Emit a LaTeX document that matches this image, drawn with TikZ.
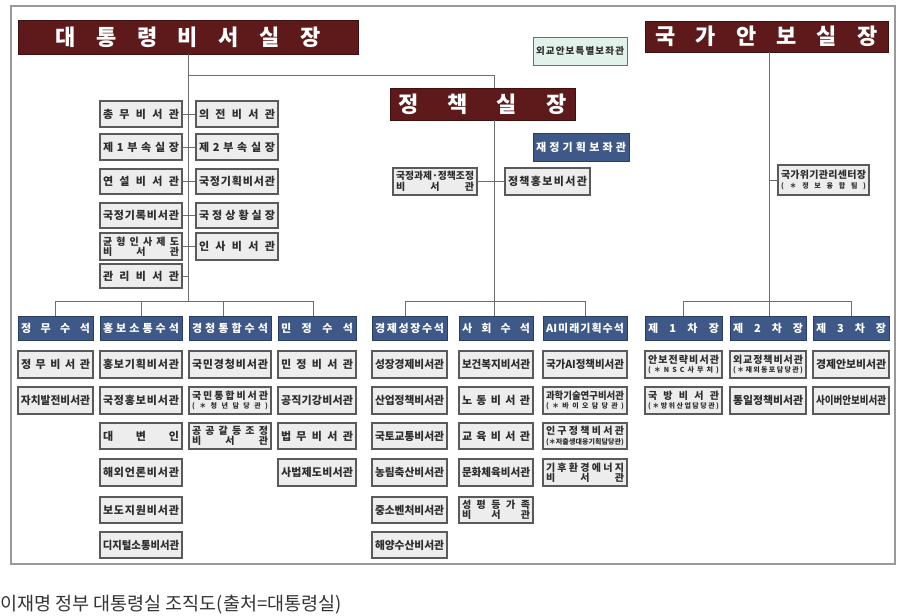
\documentclass[tikz,border=0pt]{standalone}
\usepackage{fontspec}
\setmainfont{Noto Sans CJK KR}
\usepackage{graphicx}
\definecolor{dred}{HTML}{5E1A1A}
\definecolor{dredb}{HTML}{3F1010}
\definecolor{hblue}{HTML}{3E5887}
\definecolor{hblueb}{HTML}{2A3E62}
\definecolor{sfill}{HTML}{EDEDED}
\definecolor{sbord}{HTML}{5A5A5A}
\definecolor{gfill}{HTML}{E1F2EA}
\definecolor{lnc}{HTML}{6E6E6E}
\definecolor{txt}{HTML}{2E2E2E}
\ExplSyntaxOn
\NewDocumentCommand\sprd{m}{\seq_clear:N \l_tmpa_seq \tl_map_inline:nn {#1}{\seq_put_right:Nn \l_tmpa_seq {##1}} \seq_use:Nn \l_tmpa_seq {\hfil}}
\ExplSyntaxOff
\newlength\bw
\newcommand\fitline[1]{\setbox0\hbox{\sprd{#1}}\ifdim\wd0>\bw\resizebox{\bw}{\height}{\sprd{#1}}\else\hbox to\bw{\sprd{#1}}\fi}
\newcommand\twos[2]{{\fontsize{10}{10}\selectfont\fitline{#1}}\\[-1.5pt]{\fontsize{10}{10}\selectfont\fitline{#2}}}
\newcommand\twop[2]{{\fontsize{10}{10}\selectfont\fitline{#1}}\\[-2.5pt]{\fontsize{7}{7}\selectfont\fitline{#2}}}
\newcommand\bx[7]{%
  \setlength\bw{\dimexpr #4pt - #2pt - 6pt\relax}%
  \node[#6, minimum width={(#4-#2)*1pt}, minimum height={(#5-#3)*1pt}] (#1) at ({(#2+#4)/2},{(#3+#5)/2}) {#7};}
\tikzset{
  sub/.style={draw=sbord, fill=sfill, line width=1.3pt, inner sep=0pt, text=txt, align=center, font=\bfseries\fontsize{11}{12}\selectfont},
  head/.style={draw=hblueb, fill=hblue, line width=0.9pt, inner sep=0pt, text=white, align=center, font=\bfseries\fontsize{11}{12}\selectfont},
  ttl/.style={draw=dredb, fill=dred, line width=0.6pt, inner sep=0pt, text=white, font=\bfseries\fontsize{22}{23}\selectfont},
  grn/.style={draw=lnc, fill=gfill, line width=1pt, inner sep=0pt, text=txt, font=\bfseries\fontsize{9.5}{10}\selectfont},
  ln/.style={draw=lnc, line width=1pt}
}
\begin{document}
\begin{tikzpicture}[x=1pt, y=-1pt]
\useasboundingbox (0,0) rectangle (900,616);
\draw[draw=gray!80, line width=1.5pt] (11,6) rectangle (895,564);
% junction coordinates
\coordinate (jc) at (188,301);
\coordinate (jt) at (188,75);
\coordinate (jp) at (494,75);
\coordinate (pj) at (494,301);
\coordinate (nj) at (769,301);
% titles
\bx{ceo}{18}{20}{358}{54}{ttl}{\hbox to 265pt{\sprd{대통령비서실장}}}
\bx{nsa}{645}{21}{888}{52}{ttl}{\hbox to 222pt{\sprd{국가안보실장}}}
\bx{pol}{390}{88}{575}{120}{ttl}{\hbox to 168pt{\sprd{정책실장}}}
\bx{spe}{533}{37}{627}{65}{grn}{\fitline{외교안보특별보좌관}}
\bx{fin}{533}{133}{629}{161}{head}{\fitline{재정기획보좌관}}
% chief of staff column
\bx{a1}{100}{101}{182}{127}{sub}{\fitline{총무비서관}}
\bx{b1}{196}{101}{278}{127}{sub}{\fitline{의전비서관}}
\bx{a2}{100}{134}{182}{160}{sub}{\fitline{제1부속실장}}
\bx{b2}{196}{134}{278}{160}{sub}{\fitline{제2부속실장}}
\bx{a3}{100}{169}{182}{194}{sub}{\fitline{연설비서관}}
\bx{b3}{196}{169}{278}{194}{sub}{\fitline{국정기획비서관}}
\bx{a4}{100}{203}{182}{228}{sub}{\fitline{국정기록비서관}}
\bx{b4}{196}{203}{278}{228}{sub}{\fitline{국정상황실장}}
\bx{a5}{100}{233}{182}{260}{sub}{\twos{균형인사제도}{비서관}}
\bx{b5}{196}{233}{278}{260}{sub}{\fitline{인사비서관}}
\bx{a6}{100}{264}{182}{288}{sub}{\fitline{관리비서관}}
% policy
\bx{pa}{393}{168}{477}{195}{sub}{\twos{국정과제·정책조정}{비서관}}
\bx{pb}{505}{168}{590}{195}{sub}{\fitline{정책홍보비서관}}
% nsa
\bx{nc}{778}{165}{869}{195}{sub}{\twop{국가위기관리센터장}{(＊정보융합팀)}}
% senior secretaries
\bx{s1}{18}{316}{93}{340}{head}{\fitline{정무수석}}
\bx{s2}{100}{316}{182}{340}{head}{\fitline{홍보소통수석}}
\bx{s3}{189}{316}{271}{340}{head}{\fitline{경청통합수석}}
\bx{s4}{278}{316}{356}{340}{head}{\fitline{민정수석}}
\bx{s5}{372}{316}{447}{340}{head}{\fitline{경제성장수석}}
\bx{s6}{459}{316}{533}{340}{head}{\fitline{사회수석}}
\bx{s7}{543}{316}{627}{340}{head}{\fitline{{AI}미래기획수석}}
\bx{s8}{645}{316}{722}{340}{head}{\fitline{제1차장}}
\bx{s9}{730}{316}{806}{340}{head}{\fitline{제2차장}}
\bx{s10}{813}{316}{889}{340}{head}{\fitline{제3차장}}
% column 1
\bx{c1a}{18}{351}{93}{378}{sub}{\fitline{정무비서관}}
\bx{c1b}{18}{387}{93}{414}{sub}{\fitline{자치발전비서관}}
% column 2
\bx{c2a}{100}{351}{182}{378}{sub}{\fitline{홍보기획비서관}}
\bx{c2b}{100}{387}{182}{414}{sub}{\fitline{국정홍보비서관}}
\bx{c2c}{100}{423}{182}{449}{sub}{\fitline{대변인}}
\bx{c2d}{100}{459}{182}{486}{sub}{\fitline{해외언론비서관}}
\bx{c2e}{100}{497}{182}{523}{sub}{\fitline{보도지원비서관}}
\bx{c2f}{100}{532}{182}{558}{sub}{\fitline{디지털소통비서관}}
% column 3
\bx{c3a}{189}{351}{271}{378}{sub}{\fitline{국민경청비서관}}
\bx{c3b}{189}{387}{271}{414}{sub}{\twop{국민통합비서관}{(＊청년담당관)}}
\bx{c3c}{189}{423}{271}{449}{sub}{\twos{공공갈등조정}{비서관}}
% column 4
\bx{c4a}{278}{351}{356}{378}{sub}{\fitline{민정비서관}}
\bx{c4b}{278}{387}{356}{414}{sub}{\fitline{공직기강비서관}}
\bx{c4c}{278}{423}{356}{449}{sub}{\fitline{법무비서관}}
\bx{c4d}{278}{459}{356}{486}{sub}{\fitline{사법제도비서관}}
% column 5
\bx{c5a}{372}{351}{447}{378}{sub}{\fitline{성장경제비서관}}
\bx{c5b}{372}{387}{447}{414}{sub}{\fitline{산업정책비서관}}
\bx{c5c}{372}{423}{447}{449}{sub}{\fitline{국토교통비서관}}
\bx{c5d}{372}{459}{447}{486}{sub}{\fitline{농림축산비서관}}
\bx{c5e}{372}{497}{447}{523}{sub}{\fitline{중소벤처비서관}}
\bx{c5f}{372}{532}{447}{558}{sub}{\fitline{해양수산비서관}}
% column 6
\bx{c6a}{459}{351}{533}{378}{sub}{\fitline{보건복지비서관}}
\bx{c6b}{459}{387}{533}{414}{sub}{\fitline{노동비서관}}
\bx{c6c}{459}{423}{533}{449}{sub}{\fitline{교육비서관}}
\bx{c6d}{459}{459}{533}{486}{sub}{\fitline{문화체육비서관}}
\bx{c6e}{459}{497}{533}{523}{sub}{\twos{성평등가족}{비서관}}
% column 7
\bx{c7a}{543}{351}{627}{378}{sub}{\fitline{국가{AI}정책비서관}}
\bx{c7b}{543}{387}{627}{414}{sub}{\twop{과학기술연구비서관}{(＊바이오담당관)}}
\bx{c7c}{543}{423}{627}{449}{sub}{\twop{인구정책비서관}{(＊저출생대응기획담당관)}}
\bx{c7d}{543}{459}{627}{486}{sub}{\twos{기후환경에너지}{비서관}}
% column 8-10
\bx{c8a}{645}{351}{722}{378}{sub}{\twop{안보전략비서관}{(＊NSC사무처)}}
\bx{c8b}{645}{387}{722}{414}{sub}{\twop{국방비서관}{(＊방위산업담당관)}}
\bx{c9a}{730}{351}{806}{378}{sub}{\twop{외교정책비서관}{(＊재외동포담당관)}}
\bx{c9b}{730}{387}{806}{414}{sub}{\fitline{통일정책비서관}}
\bx{c10a}{813}{351}{889}{378}{sub}{\fitline{경제안보비서관}}
\bx{c10b}{813}{387}{889}{414}{sub}{\fitline{사이버안보비서관}}
% connectors
\draw[ln] (ceo.south) -- (jc);
\draw[ln] (jt) -- (jp) -- (jp |- pol.north);
\draw[ln] (a1) -- (b1);
\draw[ln] (a2) -- (b2);
\draw[ln] (a3) -- (b3);
\draw[ln] (a4) -- (b4);
\draw[ln] (a5) -- (b5);
\draw[ln] (a6.east) -- (a6.east -| jc);
\draw[ln] (s1.north) |- ([xshift=-4pt]s4.north |- jc) -- ([xshift=-4pt]s4.north);
\draw[ln] (s2.north) -- (s2.north |- jc);
\draw[ln] ([xshift=-7pt]s3.north) -- ([xshift=-7pt]s3.north |- jc);
\draw[ln] (pol.south -| pj) -- (pj);
\draw[ln] (pa) -- (pb);
\draw[ln] ([xshift=-4pt]s5.north) |- (s7.north |- pj) -- (s7.north);
\draw[ln] (s6.north -| pj) -- (pj);
\draw[ln] (nsa.south -| nj) -- (nj);
\draw[ln] (nc.west -| nj) -- (nc.west);
\draw[ln] (s8.north) |- (s10.north |- nj) -- (s10.north);
\draw[ln] (s9.north -| nj) -- (nj);
% caption
\node[anchor=base west, inner sep=0pt, text=black!80, font=\fontsize{18.5}{19}\selectfont] (cap) at (0,610) {이재명 정부 대통령실 조직도(출처=대통령실)};
\end{tikzpicture}
\end{document}
